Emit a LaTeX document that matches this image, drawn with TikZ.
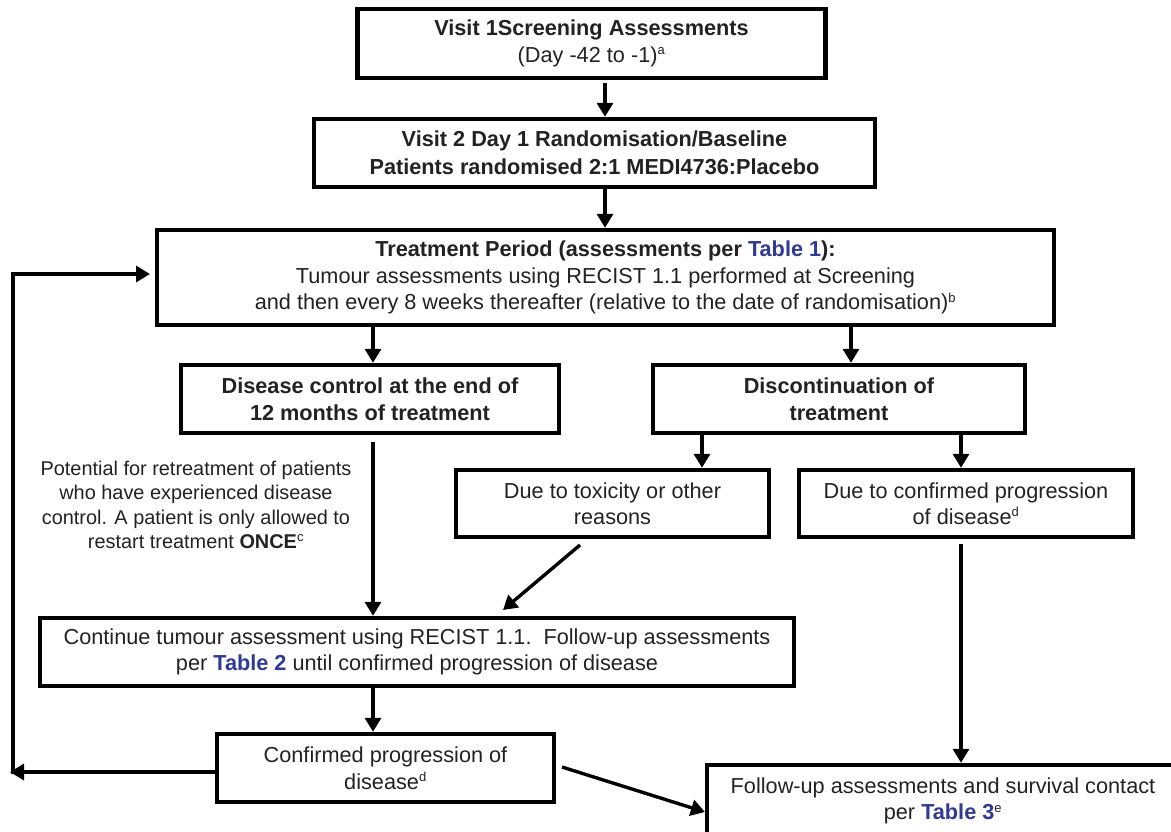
\documentclass[tikz,border=0pt]{standalone}
\usepackage{fontspec}
\setmainfont{Liberation Sans}
\usetikzlibrary{arrows.meta}
\definecolor{txt}{HTML}{222222}
\definecolor{tbl}{HTML}{2E3A94}
\newcommand{\tbl}[1]{\textcolor{tbl}{\textbf{#1}}}
\newcommand{\sups}[1]{\textsuperscript{\fontsize{13}{13}\selectfont #1}}
\begin{document}
\begin{tikzpicture}[x=1pt,y=-1pt,
  box/.style={draw=black,line width=4.4pt,rectangle,inner sep=0pt,align=center,
    text=txt,font=\fontsize{21.7}{26.5}\selectfont},
  arr/.style={draw=black,line width=3.4pt,-{Triangle[length=14pt,width=16pt]}},
  plain/.style={draw=black,line width=3.4pt},
  note/.style={align=center,text=txt,inner sep=0pt,font=\fontsize{19.9}{24.5}\selectfont}]
\useasboundingbox (0,0) rectangle (1171,831);
\clip (0,0) rectangle (1171,831);

\node[box,minimum width=468,minimum height=69] (b1) at (591.5,43.5)
  {\textbf{Visit 1Screening Assessments}\\(Day -42 to -1)\sups{a}};
\node[box,minimum width=561,minimum height=68] (b2) at (594.5,153)
  {\textbf{Visit 2 Day 1 Randomisation/Baseline}\\[1pt]\textbf{Patients randomised 2:1 MEDI4736:Placebo}};
\node[box,minimum width=897,minimum height=95] (b3) at (605.5,277.5)
  {\textbf{Treatment Period (assessments per \tbl{Table 1}):}\\Tumour assessments using RECIST 1.1 performed at Screening\\and then every 8 weeks thereafter (relative to the date of randomisation)\sups{b}};
\node[box,minimum width=378,minimum height=68] (b4) at (370,399)
  {\textbf{Disease control at the end of}\\\textbf{12 months of treatment}};
\node[box,minimum width=372,minimum height=68] (b5) at (839,399)
  {\textbf{Discontinuation of}\\\textbf{treatment}};
\node[box,minimum width=313,minimum height=67] (b6) at (612.5,503.5)
  {Due to toxicity or other\\reasons};
\node[box,minimum width=334,minimum height=67] (b7) at (966,503.5)
  {Due to confirmed progression\\of disease\sups{d}};
\node[note] (n1) at (196,505)
  {Potential for retreatment of patients\\who have experienced disease\\control. A patient is only allowed to\\restart treatment \textbf{ONCE}\sups{c}};
\node[box,minimum width=754,minimum height=68] (b8) at (417,652)
  {Continue tumour assessment using RECIST 1.1.\ \ Follow-up assessments\\per \tbl{Table 2} until confirmed progression of disease};
\node[box,minimum width=337,minimum height=68] (b9) at (385.5,768)
  {Confirmed progression of\\disease\sups{d}};
\node[box,minimum width=472,minimum height=72] (b10) at (943,801)
  {Follow-up assessments and survival contact\\per \tbl{Table 3}\sups{e}};

% helper coordinates
\coordinate (x605) at (605,0);
\coordinate (x373) at (373,0);
\coordinate (x851) at (851,0);
\coordinate (x702) at (702,0);
\coordinate (x961) at (961,0);
\coordinate (d1s) at (580,545);
\coordinate (d1e) at (503,610);
\coordinate (d2s) at (562,767);
\coordinate (d2e) at (705,812);
\coordinate (lft) at (10,772);
\coordinate (cor) at (13,774);
\coordinate (top) at (13,274);
\coordinate (tip) at (150,274);
\coordinate (b9w) at (217,772);

\draw[arr] ([yshift=-3pt]b1.south -| x605) -- (b2.north -| x605);
\draw[arr] (b2.south -| x605) -- (b3.north -| x605);
\draw[arr] (b3.south -| x373) -- (b4.north -| x373);
\draw[arr] (b3.south -| x851) -- (b5.north -| x851);
\draw[arr] (b5.south -| x702) -- (b6.north -| x702);
\draw[arr] (b5.south -| x961) -- (b7.north -| x961);
\draw[arr] ([yshift=-7pt]b4.south -| x373) -- (b8.north -| x373);
\draw[arr] (d1s) -- (d1e);
\draw[arr] ([yshift=-5pt]b7.south -| x961) -- (b10.north -| x961);
\draw[arr] (b8.south -| x373) -- (b9.north -| x373);
\draw[arr] (b9w) -- (lft);
\draw[plain,-{Triangle[length=14pt,width=16pt]}] (cor) -- (top) -- (tip);
\draw[arr] (d2s) -- (d2e);
\end{tikzpicture}
\end{document}
